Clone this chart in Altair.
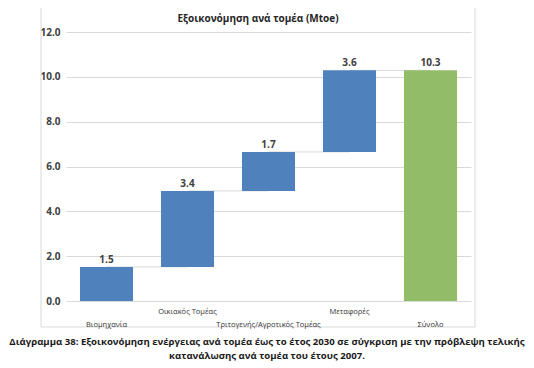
import altair as alt
import pandas as pd

categories = ["Βιομηχανία", "Οικιακός Τομέας", "Τριτογενής/Αγροτικός Τομέας", "Μεταφορές", "Σύνολο"]
savings = [1.52, 3.39, 1.74, 3.64]
y_ticks = [0, 2, 4, 6, 8, 10, 12]
title_text = "Εξοικονόμηση ανά τομέα (Mtoe)"
caption_lines = [
    "Διάγραμμα 38: Εξοικονόμηση ενέργειας ανά τομέα έως το έτος 2030 σε σύγκριση με την πρόβλεψη τελικής",
    "κατανάλωσης ανά τομέα του έτους 2007.",
]

rows = []
cum = 0.0
for i, v in enumerate(savings):
    rows.append(dict(cat=categories[i], start=cum, end=cum + v, value=v,
                     kind="sector", idx=i, nxt=categories[i + 1]))
    cum += v
rows.append(dict(cat=categories[-1], start=0.0, end=cum, value=cum,
                 kind="total", idx=len(savings), nxt=None))
df = pd.DataFrame(rows)

FONT = "Open Sans"
x_scale = alt.Scale(domain=categories, paddingInner=0.345, paddingOuter=0.1725)
y_scale = alt.Scale(domain=[0, 12], nice=False)

base = alt.Chart(df)

border = alt.Chart(pd.DataFrame({"a": [0]})).mark_rect(
    fill="transparent", stroke="#d9d9d9", strokeWidth=1
).encode(x=alt.value(-25), x2=alt.value(409), y=alt.value(-25), y2=alt.value(295))

grid = base.mark_bar(opacity=0).encode(
    x=alt.X("cat:N", scale=x_scale, axis=None, sort=categories),
    y=alt.Y("start:Q", scale=y_scale,
            axis=alt.Axis(values=y_ticks, format=".1f", labelFontWeight="bold",
                          labelFontSize=10, labelColor="#404040", labelFont=FONT,
                          domain=False, ticks=False, gridColor="#d9d9d9",
                          labelPadding=6, title=None)),
)

connectors = base.transform_filter("datum.kind == 'sector'").mark_rule(
    color="#d9d9d9", strokeWidth=1
).encode(
    x=alt.X("cat:N", scale=x_scale, sort=categories),
    x2="nxt:N",
    y=alt.Y("end:Q", scale=y_scale),
)

bars = base.mark_bar().encode(
    x=alt.X("cat:N", scale=x_scale, sort=categories),
    y=alt.Y("start:Q", scale=y_scale),
    y2="end:Q",
    color=alt.Color("kind:N", scale=alt.Scale(domain=["sector", "total"],
                                              range=["#4f81bd", "#93bc69"]), legend=None),
)

values = base.mark_text(baseline="bottom", dy=-2, fontWeight="bold", fontSize=10,
                        font=FONT, color="#404040").encode(
    x=alt.X("cat:N", scale=x_scale, sort=categories),
    y=alt.Y("end:Q", scale=y_scale),
    text=alt.Text("value:Q", format=".1f"),
)

xl_high = base.transform_filter("datum.idx % 2 == 1").mark_text(
    fontSize=7.5, font=FONT, color="#333333", baseline="middle"
).encode(x=alt.X("cat:N", scale=x_scale, sort=categories), y=alt.value(280), text="cat:N")

xl_low = base.transform_filter("datum.idx % 2 == 0").mark_text(
    fontSize=7.5, font=FONT, color="#333333", baseline="middle"
).encode(x=alt.X("cat:N", scale=x_scale, sort=categories), y=alt.value(293), text="cat:N")

title = alt.Chart(pd.DataFrame({"t": [title_text]})).mark_text(
    fontSize=10, fontWeight="bold", font=FONT, color="#262626", baseline="middle"
).encode(x=alt.value(192), y=alt.value(-13), text="t:N")

cap_df = pd.DataFrame({"t": caption_lines, "line": [0, 1]})
caption1 = alt.Chart(cap_df).transform_filter("datum.line == 0").mark_text(
    fontSize=9.6, fontWeight="bold", font=FONT, color="#1a1a1a", baseline="middle"
).encode(x=alt.value(201), y=alt.value(310), text="t:N")
caption2 = alt.Chart(cap_df).transform_filter("datum.line == 1").mark_text(
    fontSize=9.6, fontWeight="bold", font=FONT, color="#1a1a1a", baseline="middle"
).encode(x=alt.value(201), y=alt.value(324), text="t:N")

chart = alt.layer(border, grid, connectors, bars, values, xl_high, xl_low, title,
                  caption1, caption2).properties(
    width=405, height=269,
    autosize=alt.AutoSizeParams(type="none"),
    padding={"left": 58, "top": 24, "right": 55, "bottom": 62},
).configure_view(stroke=None)

chart.save("out.html", embed_options={"renderer": "svg", "actions": False})
